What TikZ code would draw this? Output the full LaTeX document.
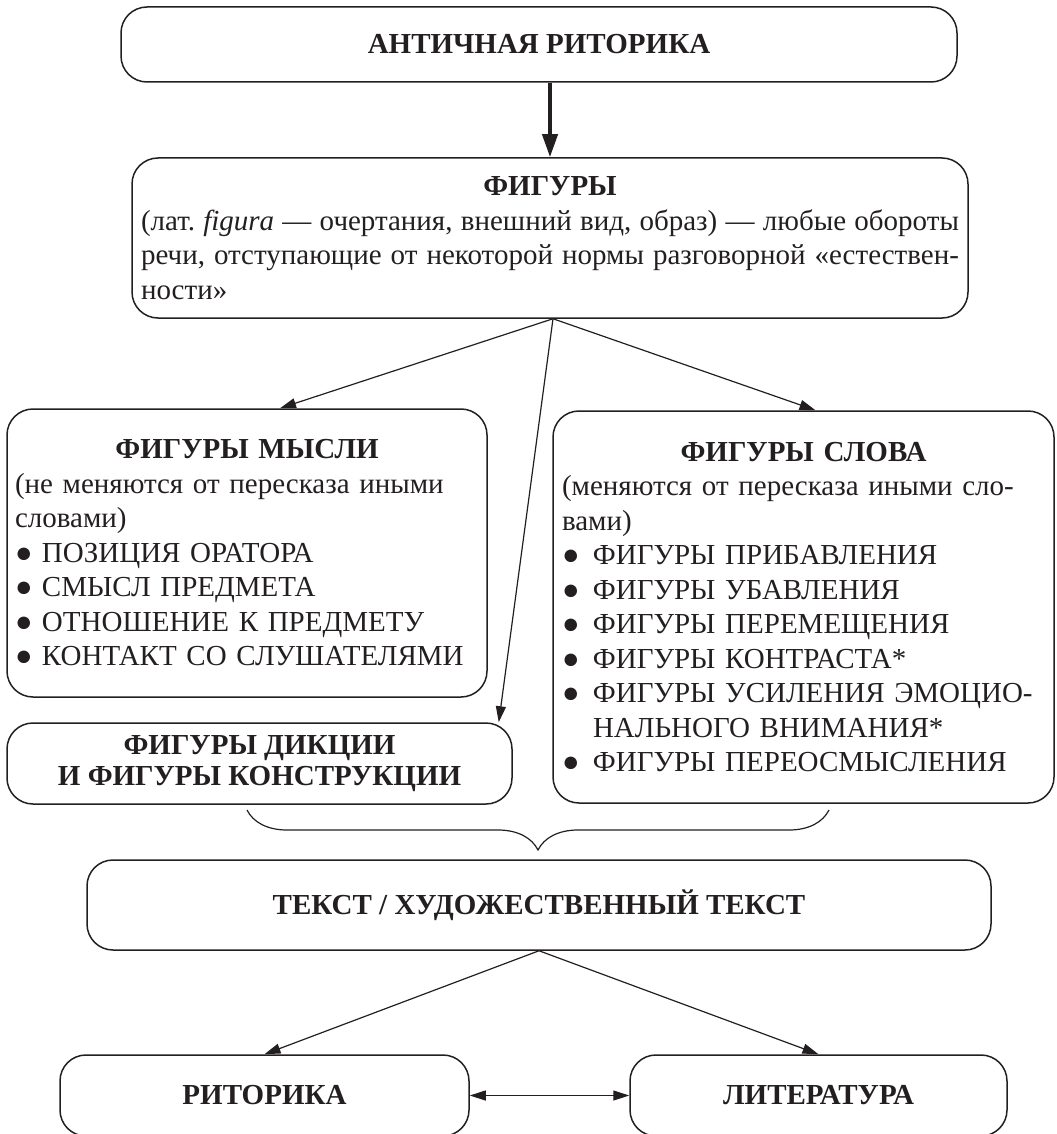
\documentclass[tikz,border=0pt]{standalone}
\usepackage{fontspec}
\setmainfont{Liberation Serif}
\usepackage{xcolor}
\usetikzlibrary{arrows.meta,decorations.pathreplacing,calc}

\definecolor{ink}{HTML}{231F20}
\newcommand{\markpoint}[1][13.5pt]{\makebox[#1][l]{●}}
\frenchspacing

\begin{document}
\begin{tikzpicture}[x=0.5pt,y=-0.5pt,
    box/.style={draw=ink,line width=0.75pt,rounded corners=13pt,inner sep=0pt,text=ink,
      font=\fontsize{14.5}{17.25}\selectfont},
    title/.style={box,font=\fontsize{14.5}{17.25}\selectfont\bfseries},
    link/.style={draw=ink,line width=0.6pt,-{Triangle[length=8pt,width=5pt]}},
    twoway/.style={draw=ink,line width=0.6pt,{Triangle[length=8pt,width=5pt]}-{Triangle[length=8pt,width=5pt]}},
    boldlink/.style={draw=ink,line width=2pt,-{Triangle[length=11.5pt,width=7.5pt]}}]

    \clip (0,0) rectangle (1056,1134);

    % Античная риторика
    \node[title,minimum width=418pt,minimum height=37.5pt] (antika) at (539,44.5) {АНТИЧНАЯ РИТОРИКА};

    % Фигуры
    \node[box,minimum width=418pt,minimum height=80pt,text width=409pt,align=left] (figury) at (550,238)
    {\spaceskip=2.4pt plus 6pt
     \makebox[\linewidth]{\bfseries ФИГУРЫ}\\
     \makebox[\linewidth][s]{(лат. \textit{figura} — очертания, внешний вид, образ) — любые обороты}\\
     \makebox[\linewidth][s]{речи, отступающие от некоторой нормы разговорной «естествен-}\\
     ности»};

    % Фигуры мысли
    \node[box,minimum width=240pt,minimum height=144pt,text width=232pt,align=left] (mysli) at (247,553)
    {\makebox[\linewidth]{\bfseries ФИГУРЫ МЫСЛИ}\\
     (не меняются от пересказа иными\\
     словами)\\
     \markpoint ПОЗИЦИЯ ОРАТОРА\\
     \markpoint СМЫСЛ ПРЕДМЕТА\\
     \markpoint ОТНОШЕНИЕ К ПРЕДМЕТУ\\
     \markpoint КОНТАКТ СО СЛУШАТЕЛЯМИ};

    % Фигуры слова
    \node[box,minimum width=250.5pt,minimum height=196pt,text width=241.5pt,align=left] (slova) at (803.5,607)
    {\makebox[\linewidth]{\bfseries ФИГУРЫ СЛОВА}\\
     (меняются от пересказа иными сло-\\
     вами)\\
     \markpoint[15.5pt]ФИГУРЫ ПРИБАВЛЕНИЯ\\
     \markpoint[15.5pt]ФИГУРЫ УБАВЛЕНИЯ\\
     \markpoint[15.5pt]ФИГУРЫ ПЕРЕМЕЩЕНИЯ\\
     \markpoint[15.5pt]ФИГУРЫ КОНТРАСТА*\\
     \markpoint[15.5pt]ФИГУРЫ УСИЛЕНИЯ ЭМОЦИО-\\
     \hspace*{15.5pt}НАЛЬНОГО ВНИМАНИЯ*\\
     \markpoint[15.5pt]ФИГУРЫ ПЕРЕОСМЫСЛЕНИЯ};

    % Фигуры дикции и конструкции
    \node[title,minimum width=252.5pt,minimum height=40.5pt,align=center,
      font=\fontsize{14.5}{15.5}\selectfont\bfseries] (diktsii) at (259.5,763.5)
    {ФИГУРЫ ДИКЦИИ\\И ФИГУРЫ КОНСТРУКЦИИ};

    % Текст
    \node[title,minimum width=452pt,minimum height=45pt] (tekst) at (539,905) {ТЕКСТ / ХУДОЖЕСТВЕННЫЙ ТЕКСТ};

    % Риторика и литература
    \node[title,minimum width=204.5pt,minimum height=40.5pt] (ritorika) at (264.5,1095.5) {РИТОРИКА};
    \node[title,minimum width=188.5pt,minimum height=40.5pt] (literatura) at (818.5,1095.5) {ЛИТЕРАТУРА};

    % Стрелки
    \draw[boldlink] (figury.north |- antika.south) -- (figury.north);
    \coordinate (fork) at ([xshift=1.5pt]figury.south);
    \draw[link] (fork) -- ([xshift=16.5pt]mysli.north);
    \draw[link] (fork) -- ([xshift=6pt]slova.north);
    \draw[link] (fork) -- ([xshift=-7pt]diktsii.north east);
    \draw[link] (tekst.south) -- (ritorika.north);
    \draw[link] (tekst.south) -- (literatura.north);
    \draw[twoway] (ritorika.east) -- (literatura.west);

    % Скобка
    \coordinate (braceL) at (247,810);
    \coordinate (braceR) at (829,810);
    \draw[ink,line width=0.6pt,decorate,decoration={brace,mirror,amplitude=20pt}] (braceL) -- (braceR);
\end{tikzpicture}
\end{document}
